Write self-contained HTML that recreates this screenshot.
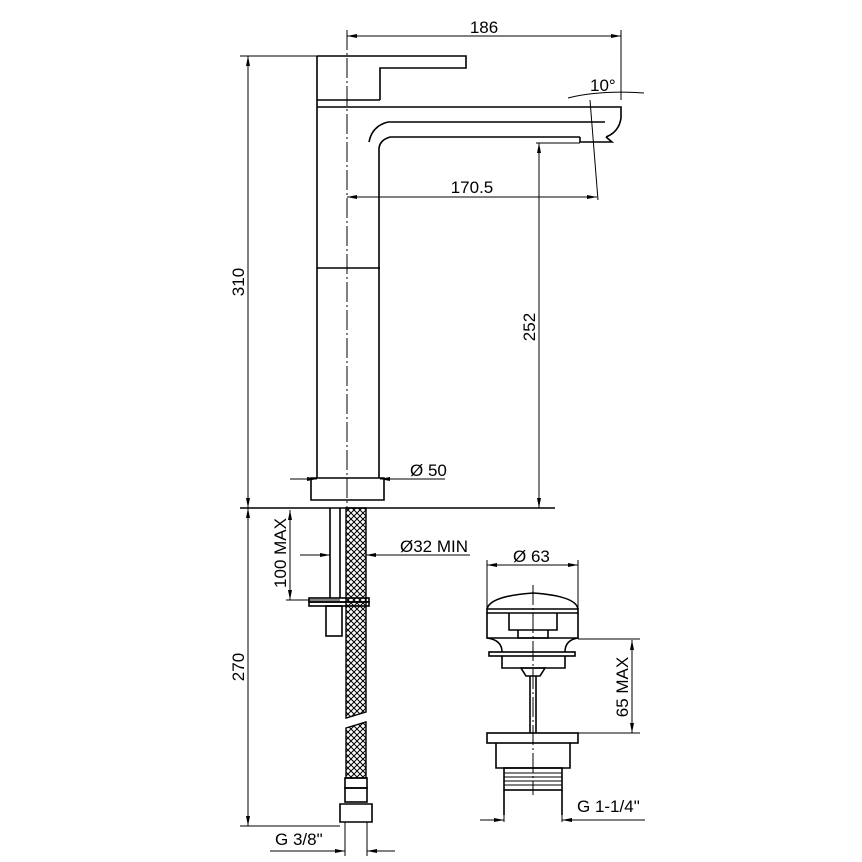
<!DOCTYPE html>
<html><head><style>body{margin:0;background:#fff}svg{display:block}text{font-family:"Liberation Sans",sans-serif;fill:#000}</style></head><body>
<svg width="862" height="862" viewBox="0 0 862 862" xmlns="http://www.w3.org/2000/svg">
<defs>
<pattern id="h" width="6" height="6" patternUnits="userSpaceOnUse"><path d="M0 0L6 6M6 0L0 6" stroke="#000" stroke-width="1"/></pattern>
<marker id="a" viewBox="0 0 10 6" refX="10" refY="3" markerWidth="10" markerHeight="6" orient="auto-start-reverse" markerUnits="userSpaceOnUse"><path d="M0 1L10 3L0 5Z" fill="#000"/></marker>
</defs>
<g fill="none" stroke="#000" stroke-width="1.6">
<path d="M317 56H466V68H380V100"/>
<path d="M317 56V478M317 100H380"/>
<path d="M317 107H621V118Q619 132 606 137"/>
<path d="M388 122H605"/>
<path d="M388 122Q372 126 369 142"/>
<path d="M390 137H580M390 137Q380 140 379 148V478"/>
<path d="M580 137V142H612L606 137"/>
<path d="M317 268H380"/>
<path d="M311 478H384V500H311Z"/>
<path d="M240 508H555"/>
<path d="M330 508V598M340 508V598"/>
<rect x="309" y="598" width="60" height="4"/><rect x="309" y="602" width="60" height="4"/>
<rect x="326" y="606" width="16" height="30"/>
<rect x="345" y="778" width="22" height="10"/><rect x="345" y="788" width="22" height="14"/>
<path d="M340 804H372V822H340Z"/>
<!-- popup -->
<path d="M487 609Q490 596 533 593Q576 596 578 609"/>
<path d="M487 609H578V613H487Z"/>
<path d="M487 613V638H578V613"/>
<path d="M509 613V630H557V613M518 630V638H548V630"/>
<path d="M487 638Q502 640 502 652M578 638Q565 640 565 652"/>
<rect x="489" y="652" width="86" height="4"/>
<path d="M502 656V668H565V656"/>
<path d="M521 668H545L540 676H526Z"/>
<path d="M530 676V733M536 676V733"/>
<rect x="487" y="733" width="91" height="10"/>
<path d="M496 743V768H570V743"/>
<rect x="504" y="768" width="58" height="22"/>
<path d="M504 773H562M504 777H562M504 781H562M504 785H562" stroke-width="1"/>
<path d="M504 790V815M562 790V815"/>
</g>
<g fill="url(#h)" stroke="#000" stroke-width="1.4">
<path d="M346 508H366V712L346 718Z"/>
<path d="M346 728L366 722V778H346Z"/>
</g>
<g fill="none" stroke="#000" stroke-width="1" marker-start="url(#a)" marker-end="url(#a)">
<path d="M347 36H621"/>
<path d="M347 197H597"/>
<path d="M248 56V508"/>
<path d="M248 508V826"/>
<path d="M539 143V508"/>
<path d="M290 510V600"/>
<path d="M632 640V733"/>
<path d="M487 565H578"/>
</g>
<g fill="none" stroke="#000" stroke-width="1">
<path d="M347 30V508" stroke-dasharray="20 3 2 3"/>
<path d="M533 585V795" stroke-dasharray="20 3 2 3"/>
<path d="M621 30V100M240 56H317M590 100L598 200M536 143H580M240 826H340M286 600H340"/>
<path d="M568 98Q600 90 644 93"/>
<path d="M578 639H640M578 733H640M487 560V609M578 560V609"/>
<path d="M345 822V856M367 822V856M504 815V822M562 815V822"/>
</g>
<g stroke="#000" stroke-width="1" marker-end="url(#a)" fill="none">
<path d="M270 851H345"/><path d="M395 851H367"/>
<path d="M480 820H504"/><path d="M600 820H562"/>
<path d="M300 555H330"/><path d="M400 555H366"/>
<path d="M290 479H317"/><path d="M445 479H380"/>
</g>
<path d="M445 479H380M400 555H470M395 851H367M600 820H645" stroke="#000" stroke-width="1"/>
<g font-size="17">
<text x="484" y="33" text-anchor="middle">186</text>
<text x="472" y="193" text-anchor="middle">170.5</text>
<text x="590" y="91">10°</text>
<text x="410" y="476">Ø 50</text>
<text x="400" y="552">Ø32 MIN</text>
<text x="513" y="562">Ø 63</text>
<text x="275" y="845">G 3/8"</text>
<text x="577" y="812">G 1-1/4"</text>
<text transform="translate(244 282) rotate(-90)" text-anchor="middle">310</text>
<text transform="translate(244 667) rotate(-90)" text-anchor="middle">270</text>
<text transform="translate(535 327) rotate(-90)" text-anchor="middle">252</text>
<text transform="translate(286 553) rotate(-90)" text-anchor="middle">100 MAX</text>
<text transform="translate(628 687) rotate(-90)" text-anchor="middle">65 MAX</text>
</g>
</svg>
</body></html>
